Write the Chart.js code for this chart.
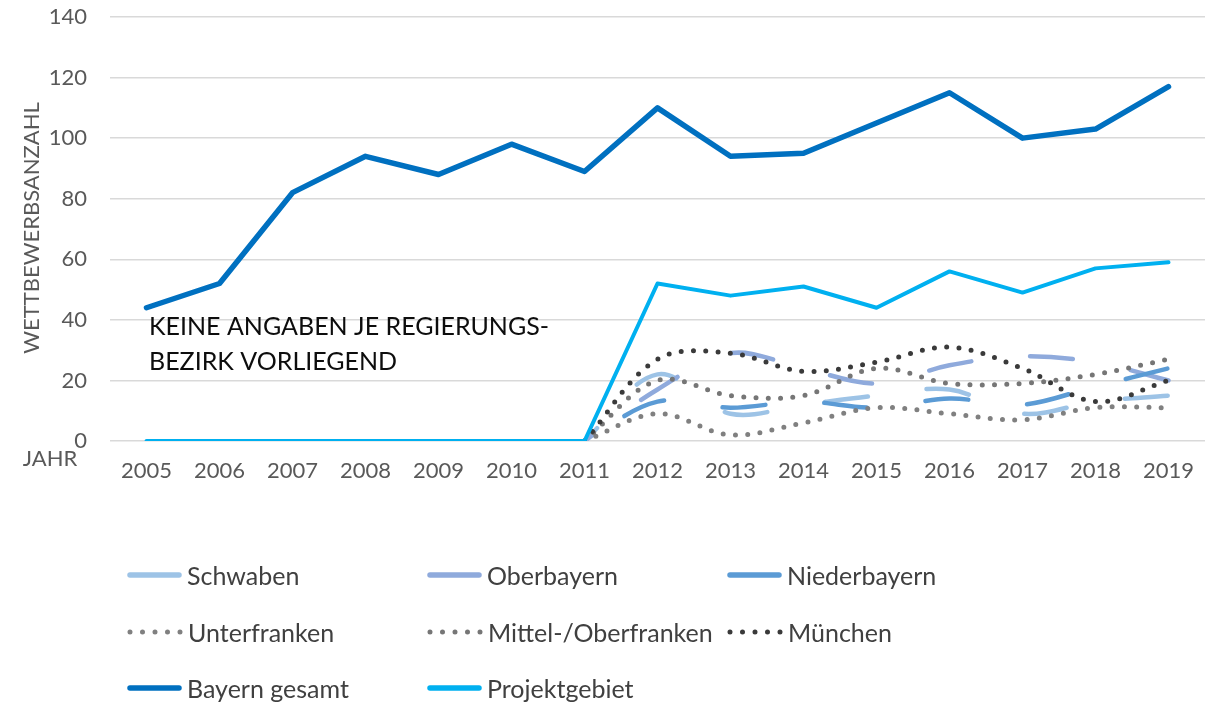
<!DOCTYPE html>
<html>
<head>
<meta charset="utf-8">
<script src="https://cdn.jsdelivr.net/npm/chart.js@4"></script>
<style>
  body { margin: 0; background: #fff; font-family: Lato, sans-serif; }
  #wrap { position: relative; width: 1212px; height: 702px; }
  #legend { position: absolute; left: 0; top: 0; }
  .item { position: absolute; display: flex; align-items: center; height: 30px; font-size: 25px; color: #404040; white-space: nowrap; }
  .item svg { margin-right: 4px; }
</style>
</head>
<body>
<div id="wrap">
  <canvas id="chart" width="1212" height="702"></canvas>
  <div id="legend"></div>
</div>
<script>
// Jahre
const years = ['2005','2006','2007','2008','2009','2010','2011','2012','2013','2014','2015','2016','2017','2018','2019'];

// Regierungsbezirke erst ab 2011
const schwaben     = [null,null,null,null,null,null,0,22,9,12,15,17,9,13,15];
const oberbayern   = [null,null,null,null,null,null,0,17,29,24,19,25,28,26,20];
const niederbayern = [null,null,null,null,null,null,0,13,11,13,11,14,12,18,24];
const unterfranken = [null,null,null,null,null,null,0,9,2,6,11,9,7,11,11];
const mittelOber   = [null,null,null,null,null,null,0,20,15,15,24,19,19,22,27];
const muenchen     = [null,null,null,null,null,null,0,27,29,23,26,31,24,13,20];
const bayernGesamt = [44,52,82,94,88,98,89,110,94,95,105,115,100,103,117];
const projektgebiet = [0,0,0,0,0,0,0,52,48,51,44,56,49,57,59];

const yTicks = [0,20,40,60,80,100,120,140];

const dashed = [43, 59];
const dotted = [0, 12.3];

const series = [
  { label: 'Schwaben', data: schwaben, color: '#9dc3e6', width: 4.5, dash: dashed, offset: 25, tension: 0.35 },
  { label: 'Oberbayern', data: oberbayern, color: '#8faadc', width: 4.5, dash: dashed, offset: 32, tension: 0.35 },
  { label: 'Niederbayern', data: niederbayern, color: '#5b9bd5', width: 4.5, dash: dashed, offset: 55, tension: 0.35 },
  { label: 'Unterfranken', data: unterfranken, color: '#808080', width: 5, dash: dotted, offset: 0, tension: 0.35 },
  { label: 'Mittel-/Oberfranken', data: mittelOber, color: '#767676', width: 5, dash: dotted, offset: 0, tension: 0.35 },
  { label: 'München', data: muenchen, color: '#3a3a3a', width: 5, dash: dotted, offset: 0, tension: 0.35 },
  { label: 'Bayern gesamt', data: bayernGesamt, color: '#0070c0', width: 5.5, dash: [], offset: 0, tension: 0 },
  { label: 'Projektgebiet', data: projektgebiet, color: '#00b0f0', width: 4, dash: [], offset: 0, tension: 0 }
];

const textPlugin = {
  id: 'texts',
  afterDraw(chart) {
    const ctx = chart.ctx;
    ctx.save();
    ctx.fillStyle = '#595959';
    ctx.font = '22px Lato';
    ctx.textAlign = 'center';
    ctx.textBaseline = 'middle';
    ctx.fillText('JAHR', 50, 459);
    ctx.translate(32, 228);
    ctx.rotate(-Math.PI / 2);
    ctx.fillText('WETTBEWERBSANZAHL', 0, 0);
    ctx.restore();

    ctx.save();
    ctx.fillStyle = '#0d0d0d';
    ctx.font = '25px Lato';
    ctx.textAlign = 'left';
    ctx.textBaseline = 'alphabetic';
    ctx.fillText('KEINE ANGABEN JE REGIERUNGS-', 149, 335);
    ctx.fillText('BEZIRK VORLIEGEND', 149, 370);
    ctx.restore();
  }
};

new Chart(document.getElementById('chart'), {
  type: 'line',
  data: {
    labels: years,
    datasets: series.map((s, i) => ({
      label: s.label,
      data: s.data,
      borderColor: s.color,
      backgroundColor: s.color,
      borderWidth: s.width,
      borderDash: s.dash,
      borderDashOffset: s.offset,
      borderCapStyle: 'round',
      borderJoinStyle: 'round',
      tension: s.tension,
      pointRadius: 0,
      fill: false,
      order: series.length - i
    }))
  },
  options: {
    responsive: false,
    animation: false,
    layout: { padding: { left: 0, top: 17, right: 7, bottom: 0 } },
    plugins: { legend: { display: false }, tooltip: { enabled: false } },
    scales: {
      x: {
        offset: true,
        // unsichtbare Tick-Striche als Abstand statt ticks.padding
        grid: { display: false, drawTicks: true, tickLength: 17, tickColor: 'rgba(0,0,0,0)' },
        border: { display: false },
        ticks: { font: { family: 'Lato', size: 22 }, color: '#595959', padding: 0, maxRotation: 0 },
        afterFit(scale) { scale.height = 261; }
      },
      y: {
        min: 0,
        max: 140,
        grid: { color: '#d9d9d9', lineWidth: 1.5, drawTicks: true, tickLength: 23, tickColor: 'rgba(0,0,0,0)' },
        border: { display: false },
        afterBuildTicks(scale) { scale.ticks = yTicks.map(v => ({ value: v })); },
        ticks: { font: { family: 'Lato', size: 22 }, color: '#595959', padding: 0 },
        afterFit(scale) { scale.width = 110; }
      }
    }
  },
  plugins: [textPlugin]
});

// Legende im Raster wie im Original
const legendPos = [
  [127, 575], [427, 575], [727, 575],
  [127, 632], [427, 632], [727, 632],
  [127, 688], [427, 688]
];
const legend = document.getElementById('legend');
series.forEach((s, i) => {
  const div = document.createElement('div');
  div.className = 'item';
  div.style.left = legendPos[i][0] + 'px';
  div.style.top = (legendPos[i][1] - 15) + 'px';
  const isDot = s.dash === dotted;
  div.innerHTML = '<svg width="' + (isDot ? 57 : 56) + '" height="10"><line x1="3" y1="5" x2="' + (isDot ? 56 : 52) +
    '" y2="5" stroke="' + s.color + '" stroke-width="' + (isDot ? 5 : 5.5) +
    '" stroke-linecap="round" ' + (isDot ? 'stroke-dasharray="0 12.5"' : '') + '/></svg><span>' + s.label + '</span>';
  legend.appendChild(div);
});
</script>
</body>
</html>
